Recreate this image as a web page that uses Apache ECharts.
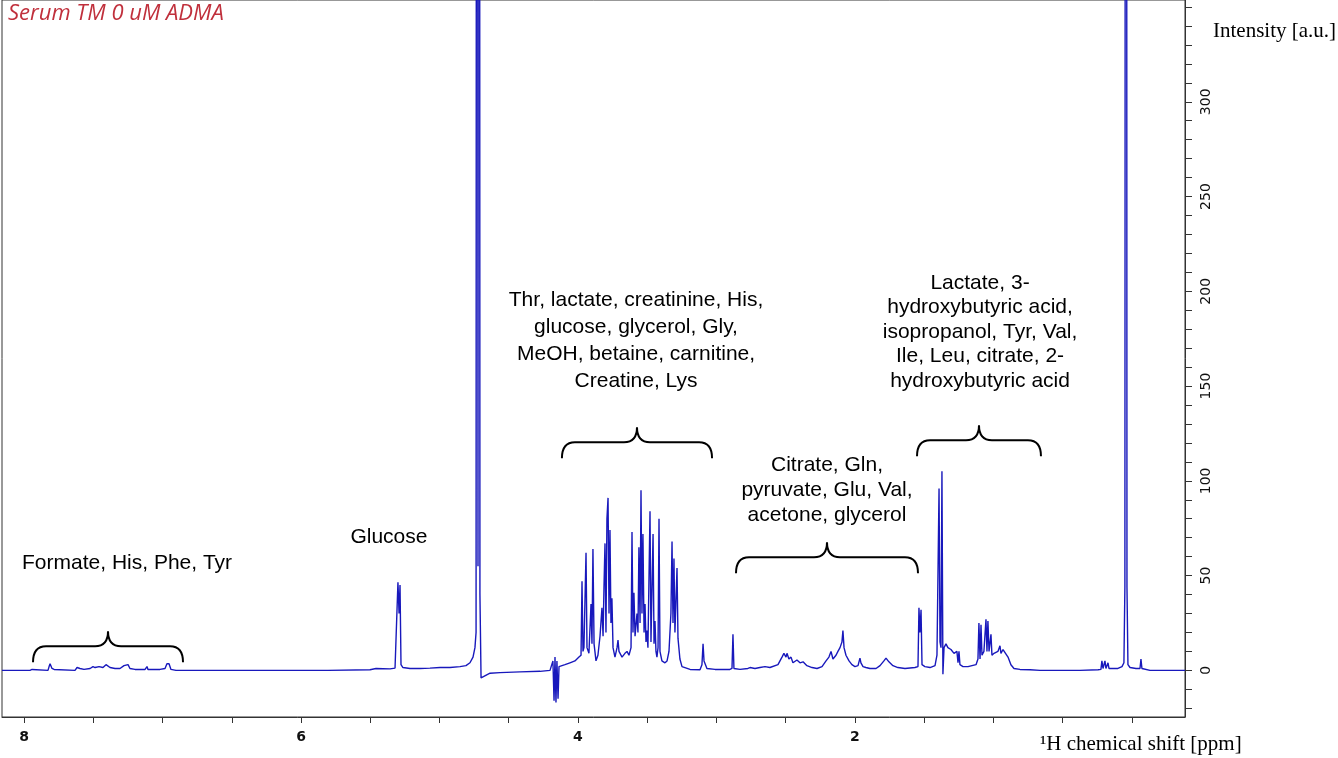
<!DOCTYPE html>
<html><head><meta charset="utf-8">
<script src="https://cdn.jsdelivr.net/npm/echarts@6/dist/echarts.min.js"></script>
<style>html,body{margin:0;padding:0;background:#fff}#c{width:1338px;height:758px}</style>
</head><body><div id="c"></div>
<script>
// ---- axis ticks / labels ----
const xTickValues = [0,0.5,1,1.5,2,2.5,3,3.5,4,4.5,5,5.5,6,6.5,7,7.5,8];
const xLabelValues = [2,4,6,8];
const yTickValues = [-20,-10,0,10,20,30,40,50,60,70,80,90,100,110,120,130,140,150,160,170,180,190,200,210,220,230,240,250,260,270,280,290,300,310,320,330,340,350];
const yLabelValues = [0,50,100,150,200,250,300];

// ---- spectrum, [ppm, intensity] ----
const aromatic = [
 [8.159,0],[7.957,0],[7.942,0.5],[7.935,1],[7.928,0],[7.827,0],[7.819,2],[7.812,3.5],[7.805,3],[7.798,1],
 [7.783,0.5],[7.769,0],[7.632,0],[7.617,1.5],[7.610,2],[7.596,1],[7.567,0.5],[7.523,1],[7.502,2],[7.487,1.5],
 [7.458,2],[7.444,2.5],[7.430,1.5],[7.408,3],[7.401,4],[7.394,3],[7.379,1.5],[7.343,1],[7.307,1],[7.278,2.5],
 [7.264,3.5],[7.249,3],[7.235,1],[7.199,0.5],[7.126,0.5],[7.112,2],[7.105,0.5],[7.018,0.5],[7.004,1.5],[6.982,1],
 [6.968,3.5],[6.953,3.5],[6.939,0.5],[6.903,0],[6.079,0],[6.072,0.8],[6.065,0],[5.978,0],[5.971,0.8],[5.964,0],
 [5.805,0],[5.798,0.8],[5.791,0],[5.502,0.3],[5.458,1],[5.444,0.5],[5.357,0.8]
];
const glucoseWater = [
 [5.321,1.2],[5.307,2],[5.300,46.5],[5.292,30],[5.285,45],[5.278,3],[5.264,1.5],[5.213,1],[5.141,1],[5.069,1.2],
 [4.996,1.5],[4.924,1.5],[4.852,2],[4.809,2.5],[4.780,4],[4.758,7],[4.744,12],[4.736,20],[4.729,1500],[4.722,55],
 [4.715,1500],[4.708,40],[4.700,-4],[4.686,-3],[4.635,-1.5],[4.563,-1.2],[4.419,-0.8],[4.274,-0.5],[4.202,0]
];
const midCluster = [
 [4.188,1],[4.181,5],[4.173,-16],[4.166,7],[4.159,-17],[4.152,5],[4.144,-15],[4.137,2],[4.123,2],[4.094,3],
 [4.058,4],[4.022,5],[3.993,7],[3.978,8],[3.971,47],[3.964,10],[3.957,12],[3.942,62],[3.935,12],[3.921,9],
 [3.906,35],[3.899,14],[3.892,64],[3.884,14],[3.870,5],[3.856,8],[3.841,18],[3.827,33],[3.819,18],[3.812,45],
 [3.805,67],[3.798,20],[3.791,80],[3.783,91],[3.776,30],[3.769,74],[3.762,25],[3.755,38],[3.747,12],[3.733,7],
 [3.718,12],[3.711,16],[3.704,10],[3.682,7],[3.661,9],[3.646,10],[3.632,8],[3.617,12],[3.610,73],[3.603,20],
 [3.596,41],[3.588,18],[3.574,30],[3.567,20],[3.560,65],[3.552,25],[3.545,95],[3.538,30],[3.531,72],[3.523,20],
 [3.516,35],[3.509,15],[3.502,21],[3.495,12],[3.480,84],[3.473,15],[3.458,72],[3.451,14],[3.444,26],[3.437,10],
 [3.430,7],[3.422,12],[3.415,80],[3.408,10],[3.394,5],[3.372,4],[3.357,5],[3.343,10],[3.329,30],[3.321,68],
 [3.314,25],[3.307,59],[3.300,20],[3.285,54],[3.278,17],[3.264,6],[3.249,2],[3.191,0.5],[3.119,0.3],[3.105,3],
 [3.097,14],[3.090,5],[3.083,4],[3.069,1],[3.011,0.5],[2.939,0.5]
];
const aliphatic = [
 [2.903,0.5],[2.888,1],[2.881,19],[2.874,1],[2.830,0.5],[2.773,1],[2.758,1.5],[2.722,1],[2.686,1.5],[2.650,2],
 [2.614,1.5],[2.556,3],[2.527,7],[2.513,9],[2.498,7],[2.491,9],[2.477,6],[2.462,7],[2.448,4],[2.419,5.5],
 [2.397,4],[2.375,4.5],[2.347,2.5],[2.310,1.5],[2.274,1],[2.238,2],[2.209,5],[2.188,7],[2.173,10],[2.159,6],
 [2.137,8],[2.123,10],[2.108,12],[2.094,15],[2.087,21],[2.079,12],[2.065,8],[2.043,5],[2.022,3],[2.000,2],
 [1.978,2.5],[1.964,6.5],[1.957,4],[1.942,2],[1.921,1.5],[1.892,1],[1.848,1],[1.819,2.5],[1.791,5],[1.776,6.5],
 [1.755,4.5],[1.726,2.5],[1.690,1.5],[1.639,1],[1.567,1.5],[1.545,2],[1.538,33],[1.531,20],[1.523,32],[1.516,3],
 [1.495,2],[1.458,1.5],[1.422,2.5],[1.408,8],[1.401,8],[1.393,96],[1.386,15],[1.379,12],[1.372,105],[1.365,-2],
 [1.357,12],[1.343,14],[1.329,12],[1.307,11],[1.285,9],[1.271,8],[1.264,10],[1.256,4],[1.249,10],[1.242,3],
 [1.220,2],[1.184,2],[1.155,2.5],[1.126,3],[1.112,6],[1.105,25],[1.097,6],[1.090,24],[1.083,8],[1.069,10],
 [1.054,27],[1.047,10],[1.040,26],[1.032,10],[1.018,19],[1.011,8],[0.996,9],[0.982,8],[0.968,10],[0.953,13],
 [0.946,9],[0.931,11],[0.917,10],[0.895,7],[0.874,3],[0.852,1],[0.809,0.5],[0.736,0.3],[0.664,0],[0.520,0],
 [0.375,0],[0.245,0.3]
];
const reference = [
 [0.224,0.5],[0.217,5],[0.209,1],[0.195,5],[0.188,1],[0.173,4],[0.166,1],[0.144,1],[0.101,1],[0.072,2],
 [0.058,4],[0.051,44],[0.043,1500],[0.036,44],[0.029,3],[0.014,1.5],[-0.029,1],[-0.058,1],[-0.065,6],[-0.072,1],
 [-0.130,0],[-0.383,0]
];

// ---- annotations (ppm range / anchor, intensity) ----
const braces = [[7.935,6.852,12.7],[4.116,3.032,120.4],[2.859,1.545,59.7],[1.552,0.657,121.4]];
const noteAnchors = [[7.256,56.5],[5.365,70.2],[3.581,174.0],[2.202,95.0],[1.097,178.5]];
const noteTexts = [
 'Formate, His, Phe, Tyr',
 'Glucose',
 'Thr, lactate, creatinine, His,\nglucose, glycerol, Gly,\nMeOH, betaine, carnitine,\nCreatine, Lys',
 'Citrate, Gln,\npyruvate, Glu, Val,\nacetone, glycerol',
 'Lactate, 3-\nhydroxybutyric acid,\nisopropanol, Tyr, Val,\nIle, Leu, citrate, 2-\nhydroxybutyric acid'
];
const noteLineHeights = [24, 24, 27, 25, 24.5];

const spectrum = aromatic.concat(glucoseWater, midCluster, aliphatic, reference);

const chart = echarts.init(document.getElementById('c'), null, {renderer:'canvas'});

function renderBrace(params, api) {
  const a = api.coord([api.value(0), api.value(2)]);
  const b = api.coord([api.value(1), api.value(2)]);
  const x1 = Math.min(a[0], b[0]), x2 = Math.max(a[0], b[0]), y = a[1];
  const xm = (x1 + x2) / 2, drop = 16, rise = 15, r = 13;
  const d = 'M' + x1 + ' ' + (y + drop) +
    ' Q' + x1 + ' ' + y + ' ' + (x1 + r) + ' ' + y +
    ' L' + (xm - r) + ' ' + y +
    ' Q' + xm + ' ' + y + ' ' + xm + ' ' + (y - rise) +
    ' Q' + xm + ' ' + y + ' ' + (xm + r) + ' ' + y +
    ' L' + (x2 - r) + ' ' + y +
    ' Q' + x2 + ' ' + y + ' ' + x2 + ' ' + (y + drop);
  return {type:'path', shape:{pathData:d}, style:{stroke:'#000', fill:'none', lineWidth:2}};
}
function renderNote(params, api) {
  const p = api.coord([api.value(0), api.value(1)]);
  return {type:'text', x:p[0], y:p[1], style:{
    text: noteTexts[params.dataIndex], fill:'#000',
    font: '21px "Liberation Sans", Arial, sans-serif',
    align:'center', verticalAlign:'middle', textAlign:'center', textVerticalAlign:'middle',
    lineHeight: noteLineHeights[params.dataIndex]
  }};
}

chart.setOption({
  animation:false,
  backgroundColor:'#fff',
  grid:{left:2, right:153, top:0, bottom:41, show:true, borderColor:'#333', borderWidth:1, backgroundColor:'transparent'},
  xAxis:{
    type:'value', inverse:true, min:-0.383, max:8.159,
    axisLine:{show:true, onZero:false, lineStyle:{color:'#333', width:1}},
    axisTick:{show:true, customValues:xTickValues, length:6, lineStyle:{color:'#333'}},
    axisLabel:{customValues:xLabelValues, fontWeight:'bold', fontSize:14, fontFamily:'DejaVu Sans', color:'#111', margin:13},
    splitLine:{show:false}
  },
  yAxis:{
    type:'value', position:'right', min:-24.6, max:353.7,
    axisLine:{show:true, onZero:false, lineStyle:{color:'#333', width:1}},
    axisTick:{show:true, customValues:yTickValues, length:7, lineStyle:{color:'#333'}},
    axisLabel:{customValues:yLabelValues, rotate:90, fontSize:14, fontFamily:'DejaVu Sans', color:'#111', margin:14},
    splitLine:{show:false}
  },
  series:[
    {type:'line', data:spectrum, showSymbol:false, symbol:'none', clip:true,
     lineStyle:{color:'#1818bc', width:1.4}, z:2},
    {type:'custom', data:braces, encode:{x:[0,1], y:2}, renderItem:renderBrace, clip:false, silent:true, z:3},
    {type:'custom', data:noteAnchors, encode:{x:0, y:1}, renderItem:renderNote, clip:false, silent:true, z:3}
  ],
  graphic:[
    {type:'text', x:8, y:14, style:{text:'Serum TM 0 uM ADMA', font:'italic 22px "Open Sans", sans-serif', fill:'#c0303c', verticalAlign:'middle'}},
    {type:'text', x:1213, y:31, style:{text:'Intensity [a.u.]', font:'21px "Liberation Serif", "Times New Roman", serif', fill:'#000', verticalAlign:'middle'}},
    {type:'text', x:1040, y:744, style:{text:'\u00B9H chemical shift [ppm]', font:'21px "Liberation Serif", "Times New Roman", serif', fill:'#000', verticalAlign:'middle'}}
  ]
});
</script></body></html>
